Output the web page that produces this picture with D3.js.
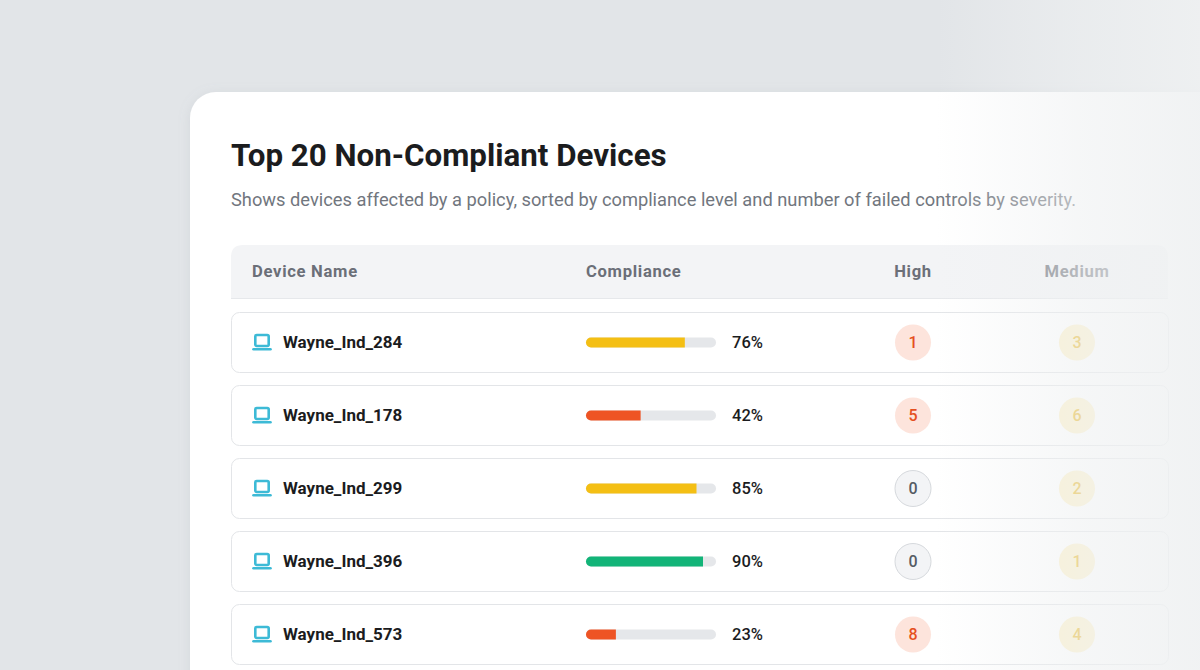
<!DOCTYPE html>
<html>
<head>
<meta charset="utf-8">
<script src="https://cdn.jsdelivr.net/npm/d3@7"></script>
<style>
  html, body { margin: 0; padding: 0; background: #e2e5e8; }
  svg { display: block; font-family: Roboto, "Noto Sans", sans-serif; }
</style>
</head>
<body>
<div id="chart"></div>
<script>
// data
const columns = ["Device Name", "Compliance", "High", "Medium"];
const devices = ["Wayne_Ind_284", "Wayne_Ind_178", "Wayne_Ind_299", "Wayne_Ind_396", "Wayne_Ind_573"];
const compliance = [76, 42, 85, 90, 23];
const high = [1, 5, 0, 0, 8];
const medium = [3, 6, 2, 1, 4];

const title = "Top 20 Non-Compliant Devices";
const subtitle = "Shows devices affected by a policy, sorted by compliance level and number of failed controls by severity.";

(function() {
    const width = 1200;
    const height = 670;

    const card = {x: 190, y: 92, r: 26};
    const table = {x: 231, right: 1168, headTop: 245, headBottom: 298};
    const colX = [252, 586, 913, 1077];

    const rows = devices.map((d, i) => ({
        name: d, pct: compliance[i], high: high[i], medium: medium[i]
    }));

    const y = d3.scaleBand()
        .domain(devices)
        .range([312, 665])
        .paddingInner(12 / 73)
        .paddingOuter(0);

    const x = d3.scaleLinear()
        .domain([0, 100])
        .range([586, 716]);

    const barColor = v => v < 50 ? "#ee5424" : (v < 90 ? "#f4bf14" : "#12b478");

    const svg = d3.select("#chart").append("svg")
        .attr("width", width)
        .attr("height", height);

    const defs = svg.append("defs");

    const shadow = defs.append("filter")
        .attr("id", "shadow")
        .attr("x", "-10%").attr("y", "-10%")
        .attr("width", "130%").attr("height", "130%");
    shadow.append("feDropShadow")
        .attr("dx", 0).attr("dy", 2)
        .attr("stdDeviation", 6)
        .attr("flood-color", "#8a949e")
        .attr("flood-opacity", 0.18);

    const fade = defs.append("linearGradient")
        .attr("id", "fade")
        .attr("x1", 0).attr("x2", 1).attr("y1", 0).attr("y2", 0);
    fade.selectAll("stop")
        .data([[0, 0], [0.78, 0], [0.9, 0.58], [1, 0.9]])
        .join("stop")
        .attr("offset", d => d[0])
        .attr("stop-color", "#eff1f2")
        .attr("stop-opacity", d => d[1]);

    // background
    svg.append("rect")
        .attr("width", width).attr("height", height)
        .attr("fill", "#e2e5e8");

    // card
    svg.append("rect")
        .attr("x", card.x).attr("y", card.y)
        .attr("width", width - card.x + 60)
        .attr("height", height - card.y + 60)
        .attr("rx", card.r)
        .attr("fill", "#ffffff")
        .attr("filter", "url(#shadow)");

    svg.append("text")
        .attr("x", table.x).attr("y", 166)
        .attr("font-size", 31.3)
        .attr("font-weight", 700)
        .attr("fill", "#1b1c1e")
        .text(title);

    svg.append("text")
        .attr("x", table.x).attr("y", 206)
        .attr("font-size", 18.3)
        .attr("fill", "#71767e")
        .text(subtitle);

    // table header
    const headH = table.headBottom - table.headTop;
    svg.append("path")
        .attr("d", `M${table.x},${table.headBottom}V${table.headTop + 12}
            Q${table.x},${table.headTop} ${table.x + 12},${table.headTop}
            H${table.right - 12}Q${table.right},${table.headTop} ${table.right},${table.headTop + 12}
            V${table.headBottom}Z`)
        .attr("fill", "#f3f4f6");
    svg.append("line")
        .attr("x1", table.x).attr("x2", table.right)
        .attr("y1", table.headBottom + 0.5).attr("y2", table.headBottom + 0.5)
        .attr("stroke", "#e6e8eb");

    svg.append("g")
        .selectAll("text")
        .data(columns)
        .join("text")
        .attr("x", (d, i) => colX[i])
        .attr("y", table.headTop + headH / 2)
        .attr("dy", "0.35em")
        .attr("text-anchor", (d, i) => i >= 2 ? "middle" : "start")
        .attr("font-size", 16.6)
        .attr("font-weight", 700)
        .attr("letter-spacing", 0.7)
        .attr("fill", "#6b6f78")
        .text(d => d);

    // rows
    const row = svg.append("g")
        .selectAll("g")
        .data(rows)
        .join("g")
        .attr("transform", d => `translate(0,${y(d.name)})`);

    const bh = y.bandwidth();

    row.append("rect")
        .attr("x", table.x + 0.5).attr("y", 0.5)
        .attr("width", table.right - table.x)
        .attr("height", bh - 1)
        .attr("rx", 8)
        .attr("fill", "#ffffff")
        .attr("stroke", "#e3e5e8");

    // laptop icon
    const icon = row.append("g")
        .attr("transform", `translate(253,${bh / 2})`)
        .attr("fill", "none")
        .attr("stroke", "#3dbad6")
        .attr("stroke-width", 2.6)
        .attr("stroke-linejoin", "round");
    icon.append("rect")
        .attr("x", 2.3).attr("y", -7.5)
        .attr("width", 13.4).attr("height", 11)
        .attr("rx", 1.5);
    icon.append("path")
        .attr("d", "M0.5,6.8H17.5")
        .attr("stroke-linecap", "round");

    row.append("text")
        .attr("x", 283).attr("y", bh / 2)
        .attr("dy", "0.35em")
        .attr("font-size", 17)
        .attr("font-weight", 700)
        .attr("fill", "#1b1c1e")
        .text(d => d.name);

    // compliance bar
    row.append("rect")
        .attr("x", x(0)).attr("y", bh / 2 - 5)
        .attr("width", x(100) - x(0)).attr("height", 10)
        .attr("rx", 5)
        .attr("fill", "#e5e7ea");
    row.append("path")
        .attr("d", d => {
            const x0 = x(0), x1 = x(d.pct), t = bh / 2 - 5;
            return `M${x1},${t}V${t + 10}H${x0 + 5}A5,5 0 0 1 ${x0 + 5},${t}Z`;
        })
        .attr("fill", d => barColor(d.pct));

    row.append("text")
        .attr("x", 732).attr("y", bh / 2)
        .attr("dy", "0.35em")
        .attr("font-size", 16.5)
        .attr("font-weight", 500)
        .attr("fill", "#1b1c1e")
        .text(d => d.pct + "%");

    // high badge
    row.append("circle")
        .attr("cx", colX[2]).attr("cy", bh / 2)
        .attr("r", 18)
        .attr("fill", d => d.high > 0 ? "#fde4dc" : "#f3f4f6")
        .attr("stroke", d => d.high > 0 ? "none" : "#d6d9dd")
        .attr("stroke-width", 1);
    row.append("text")
        .attr("x", colX[2]).attr("y", bh / 2)
        .attr("dy", "0.35em")
        .attr("text-anchor", "middle")
        .attr("font-size", 16)
        .attr("font-weight", 500)
        .attr("fill", d => d.high > 0 ? "#e5501f" : "#565b64")
        .text(d => d.high);

    // medium badge
    row.append("circle")
        .attr("cx", colX[3]).attr("cy", bh / 2)
        .attr("r", 18)
        .attr("fill", "#fdf1c9");
    row.append("text")
        .attr("x", colX[3]).attr("y", bh / 2)
        .attr("dy", "0.35em")
        .attr("text-anchor", "middle")
        .attr("font-size", 16)
        .attr("font-weight", 500)
        .attr("fill", "#e8b622")
        .text(d => d.medium);

    // right side fade
    svg.append("rect")
        .attr("width", width).attr("height", height)
        .attr("fill", "url(#fade)");
})();
</script>
</body>
</html>
